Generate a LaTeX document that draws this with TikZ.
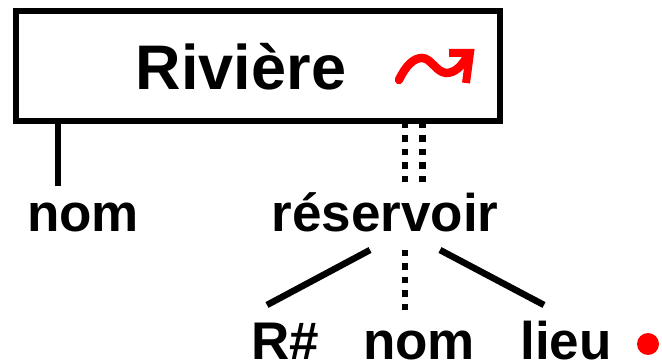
\documentclass[tikz,border=0pt]{standalone}
\usepackage{fontspec}
\setmainfont{Liberation Sans}
\usetikzlibrary{positioning}
\tikzset{
    %Define style for the box
    boite/.style={
        rectangle,
        draw, line width=5.5pt,
        minimum width=484pt,
        minimum height=110pt,
        inner sep=0pt},
    %Define style for the labels
    etiq/.style={
        font=\fontsize{53}{53}\selectfont\bfseries,
        anchor=base,
        inner sep=0pt},
    % Define line styles
    trait/.style={line width=6.5pt},
    pointille/.style={line width=6.5pt, dash pattern=on 6.5pt off 7pt},
    fleche/.style={red, line width=8.5pt, line cap=round}
}
\begin{document}
\begin{tikzpicture}[x=1pt,y=-1pt]
    \useasboundingbox (0,0) rectangle (662,363);
    %nodes
    \node[boite] (riviere) at (258,66) {};
    \node[etiq,font=\fontsize{63}{63}\selectfont\bfseries] (titre) at (241,90) {Rivière};
    \node[etiq] (nom) at (83,232) {nom};
    \node[etiq] (reservoir) at (385,232) {réservoir};
    \node[etiq] (rnum) at (285,360) {R\#};
    \node[etiq] (nomb) at (419,360) {nom};
    \node[etiq] (lieu) at (566,360) {lieu};
    \node[circle,fill=red,minimum size=22pt,inner sep=0pt] (point) at (648,344) {};
    % free ends of the connectors
    \coordinate (a) at (58,121);
    \coordinate (b) at (58,186);
    \coordinate (c) at (405,122);
    \coordinate (d) at (405,183);
    \coordinate (e) at (422.5,122);
    \coordinate (f) at (422.5,183);
    \coordinate (g) at (370,250);
    \coordinate (h) at (267,305);
    \coordinate (i) at (405,250);
    \coordinate (j) at (405,311);
    \coordinate (k) at (440,250);
    \coordinate (l) at (544,305);
    %connectors
    \draw[trait] (a) -- (b);
    \draw[pointille] (c) -- (d);
    \draw[pointille] (e) -- (f);
    \draw[trait] (g) -- (h);
    \draw[pointille] (i) -- (j);
    \draw[trait] (k) -- (l);
    % the red squiggle
    \draw[fleche] (399,80) .. controls (406,65) and (414,58) .. (422,58)
        .. controls (431,58) and (436,72) .. (446,73)
        .. controls (455,73) and (462,66) .. (468,55);
    \draw[red,line width=8pt,miter limit=10] (449,53) -- (470,53) -- (466,83);
\end{tikzpicture}
\end{document}
